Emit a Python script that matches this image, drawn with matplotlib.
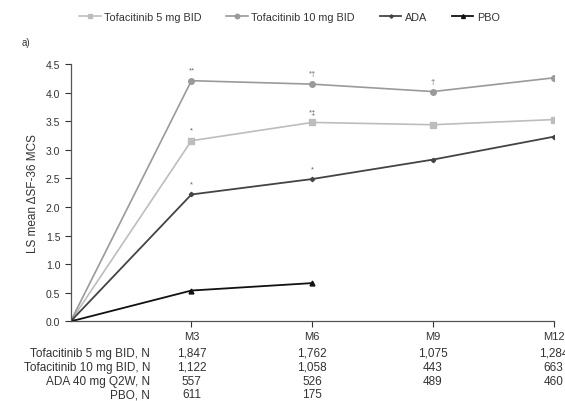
import matplotlib
matplotlib.use("Agg")
import matplotlib.pyplot as plt

plt.rcParams['font.family'] = ['Liberation Sans', 'DejaVu Sans']

months = [0, 3, 6, 9, 12]
tick_labels = ["M3", "M6", "M9", "M12"]
tofa5 = [0.0, 3.16, 3.48, 3.44, 3.53]
tofa10 = [0.0, 4.21, 4.15, 4.02, 4.26]
ada = [0.0, 2.22, 2.49, 2.83, 3.23]
pbo_months = [0, 3, 6]
pbo = [0.0, 0.54, 0.67]

row_labels = ["Tofacitinib 5 mg BID, N", "Tofacitinib 10 mg BID, N",
              "ADA 40 mg Q2W, N", "PBO, N"]
n_tofa5 = ["1,847", "1,762", "1,075", "1,284"]
n_tofa10 = ["1,122", "1,058", "443", "663"]
n_ada = ["557", "526", "489", "460"]
n_pbo = ["611", "175", "", ""]

tofa10_sig = ["**", "*\u2020", "\u2020", ""]
tofa5_sig = ["*", "*\u2021", "", ""]
ada_sig = ["*", "*", "", ""]

fig = plt.figure(figsize=(5.65, 4.02), dpi=100)
ax = fig.add_axes([0.125, 0.198, 0.855, 0.64])

c5, c10, cada, cpbo = "#bdbdbd", "#9a9a9a", "#444444", "#111111"
l1, = ax.plot(months, tofa5, color=c5, lw=1.2, marker="s", ms=4, label="Tofacitinib 5 mg BID")
l2, = ax.plot(months, tofa10, color=c10, lw=1.2, marker="o", ms=4, label="Tofacitinib 10 mg BID")
l3, = ax.plot(months, ada, color=cada, lw=1.3, marker="D", ms=2.2, label="ADA")
l4, = ax.plot(pbo_months, pbo, color=cpbo, lw=1.3, marker="^", ms=3.5, label="PBO")

for vals, sig in ((tofa10, tofa10_sig), (tofa5, tofa5_sig), (ada, ada_sig)):
    for m, v, s in zip(months[1:], vals[1:], sig):
        if s:
            ax.text(m, v + 0.12, s, ha="center", va="bottom", fontsize=5.5, color="#666666")

ax.set_xlim(0, 12)
ax.set_ylim(0, 4.5)
ax.set_xticks(months[1:])
ax.set_xticklabels(tick_labels)
ax.set_yticks([0, 0.5, 1.0, 1.5, 2.0, 2.5, 3.0, 3.5, 4.0, 4.5])
ax.set_yticklabels(["0.0", "0.5", "1.0", "1.5", "2.0", "2.5", "3.0", "3.5", "4.0", "4.5"])
ax.tick_params(axis="both", labelsize=7.5, colors="#333333", length=4, width=0.8, direction="out")
ax.tick_params(axis="x", labelsize=8, pad=3)
for s in ("top", "right"):
    ax.spines[s].set_visible(False)
for s in ("left", "bottom"):
    ax.spines[s].set_color("#555555")
    ax.spines[s].set_linewidth(0.9)
ax.set_ylabel("LS mean \u0394SF-36 MCS", fontsize=8.5, color="#333333", labelpad=5)

trans = ax.get_xaxis_transform()
row_y = [-0.122, -0.177, -0.231, -0.282]
rows = [n_tofa5, n_tofa10, n_ada, n_pbo]
for y, lab, vals in zip(row_y, row_labels, rows):
    fig.text(150 / 565, 1 - (322.5 - y * 257.5) / 402, lab, ha="right", va="center",
             fontsize=8.5, color="#333333")
    for m, v in zip(months[1:], vals):
        ax.text(m, y, v, transform=trans, ha="center", va="center", fontsize=8.5,
                color="#333333", clip_on=False)

fig.legend(handles=[l1, l2, l3, l4], loc="center", bbox_to_anchor=(0.512, 0.955), ncol=4,
           frameon=False, fontsize=7.8, handlelength=2.0, handletextpad=0.3,
           columnspacing=2.3, labelcolor="#333333", markerscale=0.8)
fig.text(22 / 565, 1 - 43 / 402, "a)", fontsize=7, color="#333333", va="center")

fig.savefig("out.png", dpi=100)
